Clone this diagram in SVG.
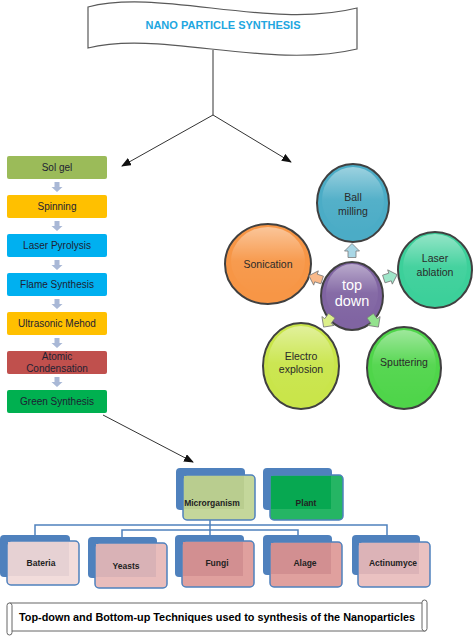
<svg xmlns="http://www.w3.org/2000/svg" width="474" height="637" viewBox="0 0 474 637">
<style>
.box text,.lbl{font-family:"Liberation Sans",Arial,sans-serif;}
.lt{font-size:10px;fill:#1e2233;text-anchor:middle;}
.ct{font-size:10.5px;fill:#2a2a2a;text-anchor:middle;}
.bt{font-size:8.5px;font-weight:bold;fill:#222;text-anchor:middle;}
.circ{stroke:#404040;stroke-width:2;}
.gloss{fill:url(#gloss);}
.back{fill:#4f81bd;}
.front{stroke:#4f81bd;stroke-width:1.5;}
.conn{stroke:#333;stroke-width:1;fill:none;}
.tree{stroke:#4f81bd;stroke-width:1.5;fill:none;}
.darr{fill:#a9b8d6;}
.parr{stroke:#7a7a7a;stroke-width:0.8;}
</style>
<defs>
<marker id="ah" markerWidth="10" markerHeight="8" refX="9" refY="4" orient="auto" markerUnits="userSpaceOnUse">
<path d="M0,0 L10,4 L0,8 Z" fill="#111"/>
</marker>
<linearGradient id="gloss" x1="0" y1="0" x2="0" y2="1">
<stop offset="0" stop-color="#fff" stop-opacity="0.45"/>
<stop offset="0.5" stop-color="#fff" stop-opacity="0.05"/>
<stop offset="1" stop-color="#fff" stop-opacity="0"/>
</linearGradient>
<path id="dn" d="M-2.5,0 L2.5,0 L2.5,5 L5.5,5 L0,10 L-5.5,5 L-2.5,5 Z"/>
<path id="up" d="M0,-7.5 L7.5,0 L4,0 L4,6.5 L-4,6.5 L-4,0 L-7.5,0 Z"/>
</defs>

<!-- Title banner -->
<g id="title">
<path d="M88,7 C160,-12 270,30 357,8 L357,49 C270,70 160,30 88,48 Z" fill="#fff" stroke="#595959" stroke-width="1.2"/>
<text class="lbl" x="223" y="29" text-anchor="middle" font-size="11" font-weight="bold" fill="#21a6e0">NANO PARTICLE SYNTHESIS</text>
</g>

<!-- Connectors -->
<g id="connectors">
<line class="conn" x1="213" y1="50" x2="213" y2="115"/>
<line class="conn" x1="213" y1="115" x2="122" y2="166" marker-end="url(#ah)"/>
<line class="conn" x1="213" y1="115" x2="291" y2="162" marker-end="url(#ah)"/>
<line class="conn" x1="103" y1="415" x2="193" y2="462" marker-end="url(#ah)"/>
<use href="#dn" class="darr" x="57" y="182"/>
<use href="#dn" class="darr" x="57" y="221"/>
<use href="#dn" class="darr" x="57" y="260"/>
<use href="#dn" class="darr" x="57" y="299"/>
<use href="#dn" class="darr" x="57" y="338"/>
<use href="#dn" class="darr" x="57" y="377"/>
<path class="tree" d="M210,520 V537 M35,537 V525 H387 V537 M122,537 V530 H298 V537"/>
</g>

<!-- Left column -->
<g id="solgel" class="box"><rect x="7" y="156" width="100" height="23" rx="2" fill="#9bbb59"/><text class="lt" x="57" y="171">Sol gel</text></g>
<g id="spinning" class="box"><rect x="7" y="195" width="100" height="23" rx="2" fill="#ffc000"/><text class="lt" x="57" y="210">Spinning</text></g>
<g id="laserpyrolysis" class="box"><rect x="7" y="234" width="100" height="23" rx="2" fill="#00b0f0"/><text class="lt" x="57" y="249">Laser Pyrolysis</text></g>
<g id="flame" class="box"><rect x="7" y="273" width="100" height="23" rx="2" fill="#00b0f0"/><text class="lt" x="57" y="288">Flame Synthesis</text></g>
<g id="ultrasonic" class="box"><rect x="7" y="312" width="100" height="23" rx="2" fill="#ffc000"/><text class="lt" x="57" y="327">Ultrasonic Mehod</text></g>
<g id="atomic" class="box"><rect x="7" y="351" width="100" height="23" rx="2" fill="#c0504d"/><text class="lt" x="57" y="360">Atomic</text><text class="lt" x="57" y="372">Condensation</text></g>
<g id="green" class="box"><rect x="7" y="390" width="100" height="23" rx="2" fill="#00b050"/><text class="lt" x="57" y="405">Green Synthesis</text></g>

<!-- Top down cluster -->
<g id="ballmilling" class="box"><ellipse class="circ" cx="353" cy="203" rx="36" ry="39" fill="#4bacc6"/><ellipse class="gloss" cx="353" cy="200" rx="31" ry="33"/><text class="ct" x="353" y="201">Ball</text><text class="ct" x="353" y="215">milling</text></g>
<g id="laserablation" class="box"><ellipse class="circ" cx="435" cy="270" rx="37" ry="38" fill="#3cd09a"/><ellipse class="gloss" cx="435" cy="267" rx="32" ry="33"/><text class="ct" x="435" y="262">Laser</text><text class="ct" x="435" y="276">ablation</text></g>
<g id="sputtering" class="box"><ellipse class="circ" cx="404" cy="368" rx="37" ry="41" fill="#4fd54a"/><ellipse class="gloss" cx="404" cy="365" rx="32" ry="35"/><text class="ct" x="404" y="366">Sputtering</text></g>
<g id="electro" class="box"><ellipse class="circ" cx="301" cy="366" rx="38" ry="43" fill="#c9e54a"/><ellipse class="gloss" cx="301" cy="363" rx="33" ry="37"/><text class="ct" x="301" y="360">Electro</text><text class="ct" x="301" y="373">explosion</text></g>
<g id="sonication" class="box"><ellipse class="circ" cx="268" cy="264" rx="43" ry="40" fill="#f79646"/><ellipse class="gloss" cx="268" cy="261" rx="37" ry="34"/><text class="ct" x="268" y="268">Sonication</text></g>
<g id="topdown" class="box"><ellipse class="circ" cx="352" cy="296" rx="31" ry="34" fill="#8064a2"/><ellipse class="gloss" cx="352" cy="293" rx="26" ry="29"/><text x="352" y="290" font-family="Liberation Sans,Arial,sans-serif" font-size="14.5" fill="#fff" text-anchor="middle">top</text><text x="352" y="306" font-family="Liberation Sans,Arial,sans-serif" font-size="14.5" fill="#fff" text-anchor="middle">down</text></g>
<g id="smallarrows">
<use href="#up" class="parr" fill="#a9d7e6" transform="translate(352,251)"/>
<use href="#up" class="parr" fill="#9ee6c9" transform="translate(390,277) rotate(72)"/>
<use href="#up" class="parr" fill="#93e28d" transform="translate(374,321) rotate(144)"/>
<use href="#up" class="parr" fill="#dcef8a" transform="translate(328,321) rotate(216)"/>
<use href="#up" class="parr" fill="#f9b98a" transform="translate(316,278) rotate(288)"/>
</g>

<!-- Bottom-up hierarchy -->
<g id="microrganism" class="box"><rect class="back" x="176" y="468" width="69" height="42" rx="4"/><rect class="front" x="183" y="475" width="72" height="45" rx="4" fill="#c4d79b"/><rect x="184" y="476" width="60" height="33" fill="#b9cd8f"/><text class="bt" x="212" y="506">Microrganism</text></g>
<g id="plant" class="box"><rect class="back" x="263" y="468" width="69" height="42" rx="4"/><rect class="front" x="270" y="475" width="73" height="45" rx="4" fill="#25b564"/><rect x="271" y="476" width="60" height="33" fill="#07a851"/><text class="bt" x="306" y="506">Plant</text></g>
<g id="bateria" class="box"><rect class="back" x="0" y="535" width="70" height="42" rx="4"/><rect class="front" x="7" y="541" width="72" height="44" rx="4" fill="#f2dcdb"/><rect x="8" y="542" width="61" height="34" fill="#e6d1d3"/><text class="bt" x="41" y="566">Bateria</text></g>
<g id="yeasts" class="box"><rect class="back" x="88" y="537" width="69" height="41" rx="4"/><rect class="front" x="95" y="543" width="72" height="45" rx="4" fill="#e9bdbc"/><rect x="96" y="544" width="60" height="33" fill="#d9b2b6"/><text class="bt" x="126" y="569">Yeasts</text></g>
<g id="fungi" class="box"><rect class="back" x="175" y="535" width="69" height="42" rx="4"/><rect class="front" x="182" y="541" width="72" height="46" rx="4" fill="#e0a09e"/><rect x="183" y="542" width="60" height="34" fill="#d28f91"/><text class="bt" x="217" y="566">Fungi</text></g>
<g id="alage" class="box"><rect class="back" x="263" y="535" width="69" height="40" rx="4"/><rect class="front" x="270" y="542" width="72" height="45" rx="4" fill="#e0a09e"/><rect x="271" y="543" width="60" height="31" fill="#d28f91"/><text class="bt" x="305" y="566">Alage</text></g>
<g id="actinumyce" class="box"><rect class="back" x="352" y="535" width="68" height="40" rx="4"/><rect class="front" x="358" y="542" width="72" height="45" rx="4" fill="#eac1c1"/><rect x="359" y="543" width="60" height="31" fill="#dcb3b7"/><text class="bt" x="393" y="566">Actinumyce</text></g>

<!-- Caption scroll -->
<g id="caption">
<rect x="10" y="603" width="415" height="28" fill="#fff" stroke="#666" stroke-width="1"/>
<rect x="7" y="603" width="5" height="32" rx="2.5" fill="#fff" stroke="#666" stroke-width="1"/>
<rect x="422" y="600" width="5" height="31" rx="2.5" fill="#fff" stroke="#666" stroke-width="1"/>
<text class="lbl" x="19" y="621" font-size="10" font-weight="bold" fill="#000" textLength="396" lengthAdjust="spacingAndGlyphs">Top-down and Bottom-up Techniques used to synthesis of the Nanoparticles</text>
</g>
</svg>
